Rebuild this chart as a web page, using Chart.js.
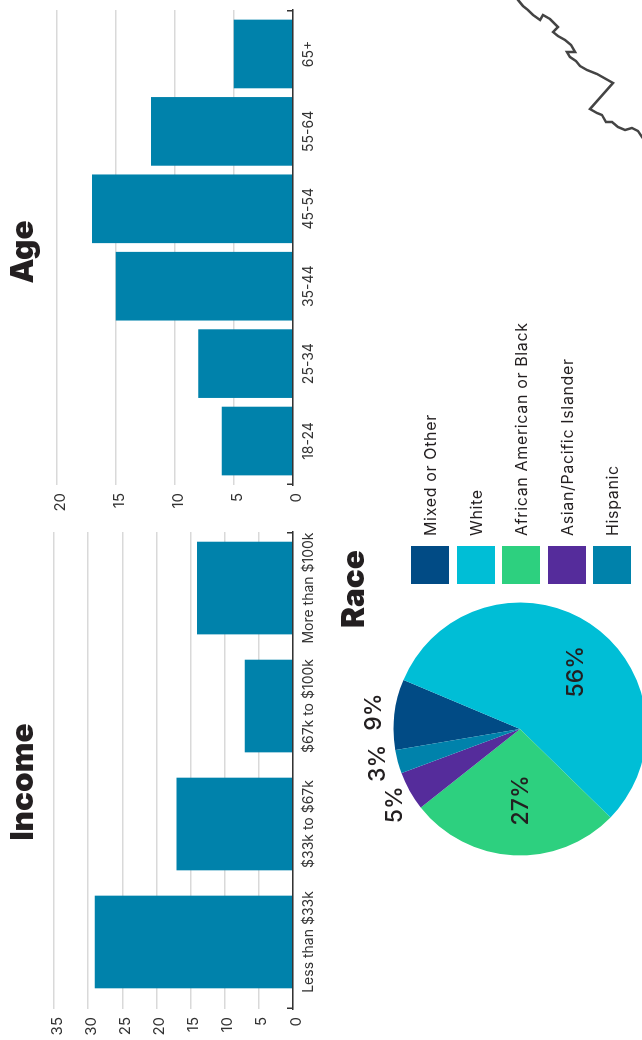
<!DOCTYPE html>
<html>
<head>
<meta charset="utf-8">
<title>Demographics</title>
<script src="https://cdn.jsdelivr.net/npm/chart.js@4/dist/chart.umd.js"></script>
<style>
  html, body { margin: 0; padding: 0; width: 642px; height: 1040px; overflow: hidden; background: #fff; }
  /* the whole page is turned a quarter turn, so it is laid out as 1040 wide by 642 high */
  #page { position: absolute; left: 0; top: 1040px; width: 1040px; height: 642px; overflow: hidden;
          transform-origin: 0 0; transform: rotate(-90deg); font-family: Inter, sans-serif; color: #231f20; }
  #page canvas { position: absolute; }
  h2 { position: absolute; margin: 0; font-size: 31.5px; font-weight: 900; line-height: 36px; white-space: nowrap; transform: translateX(-50%); }
  #legend { position: absolute; left: 456px; top: 411px; }
  .item { display: flex; align-items: center; height: 38px; margin-bottom: 7.5px; font-size: 16px; letter-spacing: .65px; white-space: nowrap; }
  .swatch { width: 38px; height: 38px; margin-right: 10px; }
</style>
</head>
<body>
<div id="page">
  <canvas id="income" width="518" height="283" style="left:0;top:37px"></canvas>
  <canvas id="age" width="512" height="280" style="left:520px;top:40px"></canvas>
  <canvas id="race" width="340" height="340" style="left:141px;top:350px"></canvas>
  <canvas id="map" width="150" height="132" style="left:890px;top:510px"></canvas>
  <h2 style="left:258px;top:4px">Income</h2>
  <h2 style="left:788px;top:4px">Age</h2>
  <h2 style="left:451px;top:335px">Race</h2>
  <div id="legend"></div>
</div>
<script>
const incomeLabels = ['Less than $33k', '$33k to $67k', '$67k to $100k', 'More than $100k'];
const incomeValues = [29, 17, 7, 14];
const incomeTicksMax = 35;

const ageLabels = ['18-24', '25-34', '35-44', '45-54', '55-64', '65+'];
const ageValues = [6, 8, 15, 17, 12, 5];
const ageTicksMax = 20;

const raceLabels = ['Mixed or Other', 'White', 'African American or Black', 'Asian/Pacific Islander', 'Hispanic'];
const raceValues = [9, 56, 27, 5, 3];
const raceColors = ['#014b85', '#00bed6', '#2dd07f', '#552c9b', '#0082ab'];

// piece of map outline in the corner
const mapX = [1045, 1040, 1034, 1030, 1025, 1020, 1025, 1021, 1013, 1008, 1004, 1000, 995, 988, 988, 983, 979, 974, 970, 966, 957, 931, 927, 925, 918, 918, 913, 910, 912, 909, 903, 898];
const mapY = [514, 518, 523, 528, 533, 540, 543, 550, 558, 553, 558, 565, 571, 575, 567, 570, 576, 580, 587, 597, 613, 590, 597, 602, 606, 612, 618, 625, 632, 638, 642, 646];

const TEAL = '#0082ab';
Chart.defaults.font.family = 'Inter, sans-serif';
Chart.defaults.color = '#333';
Chart.defaults.animation = false;

// small ticks at both ends of the category axis
const axisEnds = {
  id: 'axisEnds',
  afterDraw(chart) {
    const { ctx, chartArea: a } = chart;
    ctx.save();
    ctx.strokeStyle = '#333';
    ctx.lineWidth = 1.5;
    ctx.beginPath();
    ctx.moveTo(a.left + .75, a.bottom - 6);
    ctx.lineTo(a.left + .75, a.bottom);
    ctx.moveTo(a.right - .75, a.bottom - 6);
    ctx.lineTo(a.right - .75, a.bottom);
    ctx.stroke();
    ctx.restore();
  }
};

function barChart(id, labels, values, opts) {
  return new Chart(document.getElementById(id), {
    type: 'bar',
    data: {
      datasets: [{
        data: labels.map((l, i) => ({ x: i, y: values[i] })),
        backgroundColor: TEAL,
        barThickness: opts.barSize
      }]
    },
    options: {
      responsive: false,
      layout: { padding: { top: opts.top, right: opts.right } },
      plugins: { legend: { display: false }, tooltip: { enabled: false } },
      scales: {
        x: {
          type: 'linear', offset: false, min: opts.xMin, max: opts.xMax,
          afterBuildTicks: s => { s.ticks = labels.map((l, i) => ({ value: i })); },
          afterFit: s => { s.height = 27; },
          grid: { display: false, drawTicks: false },
          border: { color: '#333', width: 1.5, z: 1 },
          ticks: { autoSkip: false, maxRotation: 0, padding: 7, font: { size: 14 }, callback: v => labels[v] }
        },
        y: {
          min: 0, max: opts.yMax,
          afterFit: s => { s.width = opts.axisWidth; },
          grid: { color: '#d9d9d9', lineWidth: 1.5, drawTicks: false },
          border: { display: false },
          ticks: { stepSize: 5, padding: 8, labelOffset: 3, font: { size: 15 } }
        }
      }
    },
    plugins: [axisEnds]
  });
}

barChart('income', incomeLabels, incomeValues, { barSize: 92, top: 16, right: 10, xMin: -0.568, xMax: 3.475, yMax: incomeTicksMax, axisWidth: 31 });
barChart('age', ageLabels, ageValues, { barSize: 68, top: 16, right: 2, xMin: -0.568, xMax: 5.568, yMax: ageTicksMax, axisWidth: 35 });

// percent labels: inside the big slices, outside the small ones, nudged by hand per slice
const labelNudge = [[0, 1], [-8, 13], [7, 5], [-3, 4], [4, 1]];
const pieLabels = {
  id: 'pieLabels',
  afterDatasetsDraw(chart) {
    const { ctx } = chart;
    ctx.save();
    ctx.font = '500 23px Inter, sans-serif';
    ctx.fillStyle = '#231f20';
    ctx.textAlign = 'center';
    ctx.textBaseline = 'middle';
    chart.getDatasetMeta(0).data.forEach((arc, i) => {
      const mid = (arc.startAngle + arc.endAngle) / 2;
      const r = arc.outerRadius * (raceValues[i] >= 10 ? 0.62 : 1.17);
      ctx.fillText(raceValues[i] + '%',
        arc.x + Math.cos(mid) * r + labelNudge[i][0],
        arc.y + Math.sin(mid) * r + labelNudge[i][1]);
    });
    ctx.restore();
  }
};

new Chart(document.getElementById('race'), {
  type: 'pie',
  data: {
    labels: raceLabels,
    datasets: [{ data: raceValues, backgroundColor: raceColors, borderWidth: 0 }]
  },
  options: {
    responsive: false,
    rotation: -9.6,
    layout: { padding: 43.5 },
    plugins: { legend: { display: false }, tooltip: { enabled: false } }
  },
  plugins: [pieLabels]
});

new Chart(document.getElementById('map'), {
  type: 'line',
  data: {
    datasets: [{
      data: mapX.map((x, i) => ({ x: x, y: mapY[i] })),
      borderColor: '#444',
      borderWidth: 2.5,
      pointRadius: 0,
      tension: 0
    }]
  },
  options: {
    responsive: false,
    plugins: { legend: { display: false }, tooltip: { enabled: false } },
    scales: {
      x: { type: 'linear', min: 890, max: 1040, display: false },
      y: { min: 510, max: 642, reverse: true, display: false }
    }
  }
});

const legend = document.getElementById('legend');
raceLabels.forEach((label, i) => {
  const row = document.createElement('div');
  row.className = 'item';
  row.innerHTML = '<span class="swatch" style="background:' + raceColors[i] + '"></span>' + label;
  legend.appendChild(row);
});
</script>
</body>
</html>
